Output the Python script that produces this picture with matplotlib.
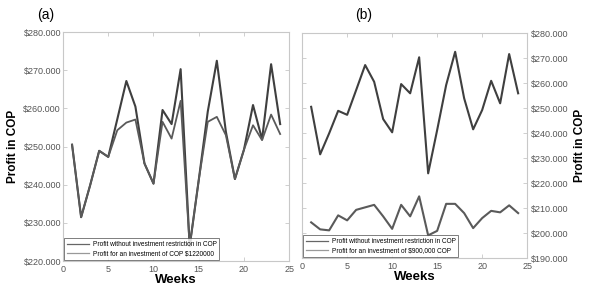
import matplotlib.pyplot as plt
from matplotlib.ticker import FuncFormatter

plt.rcParams['font.family'] = ['Liberation Sans', 'DejaVu Sans']

weeks = list(range(1, 25))

# profit without investment restriction (thousand COP)
free_profit = [250.5, 231.5, 239.9, 248.9, 247.3, 257.2, 267.2, 260.5, 245.6, 240.3,
               259.6, 255.9, 270.3, 223.9, 241.2, 259.2, 272.5, 253.9, 241.5, 249.2,
               260.9, 251.9, 271.6, 255.9]

# (a) investment of COP 1220000
limit_a = [250.5, 231.5, 239.9, 248.9, 247.3, 254.3, 256.3, 257.1, 245.6, 240.3,
           256.5, 252.1, 262.0, 223.9, 241.2, 256.5, 257.8, 253.0, 241.5, 249.2,
           255.6, 251.7, 258.4, 253.3]

# (b) investment of 900,000 COP
limit_b = [204.3, 201.5, 201.1, 207.1, 205.1, 209.3, 210.3, 211.3, 206.7, 201.7,
           211.3, 206.7, 214.7, 199.1, 200.9, 211.7, 211.7, 208.0, 202.0, 206.0,
           208.9, 208.3, 211.1, 208.0]

label_free = "Profit without investment restriction in COP"
label_a = "Profit for an investment of COP $1220000"
label_b = "Profit for an investment of $900,000 COP"

money = FuncFormatter(lambda v, p: "$%d.000" % v)

fig = plt.figure(figsize=(5.89, 2.95), dpi=100)
ax1 = fig.add_axes([0.107, 0.115, 0.384, 0.776])
ax2 = fig.add_axes([0.513, 0.125, 0.382, 0.763])


def style(ax):
    for s in ax.spines.values():
        s.set_color('#c8c8c8')
        s.set_linewidth(0.8)
    ax.tick_params(direction='in', length=3, width=0.6, color='#c8c8c8',
                   labelsize=6.5, labelcolor='#555555', top=True, right=True)
    ax.tick_params(axis='x', pad=2.5)
    ax.tick_params(axis='y', pad=1.5)
    ax.set_xlim(0, 25)
    ax.set_xticks([0, 5, 10, 15, 20, 25])
    ax.yaxis.set_major_formatter(money)
    ax.set_xlabel("Weeks", fontsize=9.5, fontweight='bold', labelpad=0)


def legend(ax):
    leg = ax.legend(loc='lower left', fontsize=4.7, frameon=True, fancybox=False,
                    borderpad=0.4, handlelength=3.4, handletextpad=0.6,
                    labelspacing=0.4, borderaxespad=0.15)
    leg.get_frame().set_edgecolor('#444444')
    leg.get_frame().set_linewidth(0.6)
    cols = ['#666666', '#999999']
    for line, c in zip(leg.get_lines(), cols):
        line.set_linewidth(0.9)
        line.set_color(c)


# (a)
ax1.plot(weeks, free_profit, color='#3f3f3f', lw=1.5, label=label_free)
ax1.plot(weeks, limit_a, color='#5a5a5a', lw=1.3, label=label_a)
style(ax1)
ax1.set_ylim(220, 280)
ax1.set_ylabel("Profit in COP", fontsize=8.5, fontweight='bold', labelpad=3)
legend(ax1)
fig.text(0.063, 0.935, "(a)", fontsize=10)

# (b)
ax2.plot(weeks, free_profit, color='#3f3f3f', lw=1.5, label=label_free)
ax2.plot(weeks, limit_b, color='#5a5a5a', lw=1.5, label=label_b)
style(ax2)
ax2.set_ylim(190, 280)
ax2.set_yticks(range(190, 281, 10))
ax2.yaxis.tick_right()
ax2.tick_params(left=True)
ax2.tick_params(axis='y', pad=2.5)
ax2.yaxis.set_label_position('right')
ax2.set_ylabel("Profit in COP", fontsize=8.5, fontweight='bold', labelpad=4)
legend(ax2)
fig.text(0.603, 0.935, "(b)", fontsize=10)

fig.savefig("out.png", dpi=100)
